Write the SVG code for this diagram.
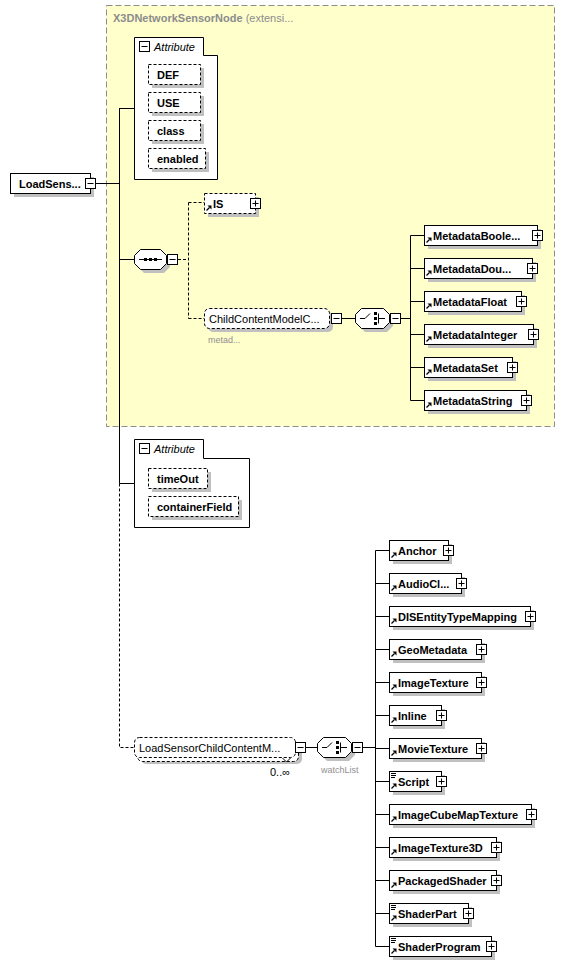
<svg xmlns="http://www.w3.org/2000/svg" xmlns:xlink="http://www.w3.org/1999/xlink" width="565" height="965" viewBox="0 0 565 965">
<style>
.box{fill:#fff;stroke:#000;stroke-width:1}
.dbox{fill:#fff;stroke:#000;stroke-width:1;stroke-dasharray:3,2}
.sh{fill:#c0c0c0}
.ln{stroke:#000;stroke-width:1;fill:none}
.dl{stroke:#000;stroke-width:1;fill:none;stroke-dasharray:3,2}
.t{font-family:"Liberation Sans",Arial,sans-serif;font-size:11px;font-weight:bold;fill:#000}
.tn{font-family:"Liberation Sans",Arial,sans-serif;font-size:11px;fill:#000}
.ti{font-family:"Liberation Sans",Arial,sans-serif;font-size:11px;font-style:italic;fill:#000}
.g{font-family:"Liberation Sans",Arial,sans-serif;font-size:9px;fill:#909090}
.pm{fill:#fff;stroke:#000;stroke-width:1}
</style>
<defs>
<g id="plus"><rect class="pm" x="0.5" y="0.5" width="10" height="10"/><path d="M2.5,5.5 H8.5 M5.5,2.5 V8.5" stroke="#000" stroke-width="1"/></g>
<g id="minus"><rect class="pm" x="0.5" y="0.5" width="10" height="10"/><path d="M2.5,5.5 H8.5" stroke="#000" stroke-width="1"/></g>
<g id="ref"><path d="M2.5,17.5 L5.5,14.5" stroke="#000" stroke-width="1.3"/><path d="M3.5,12.5 H7.5 V16.5 Z" fill="#000"/></g>
<g id="doc"><path d="M2,2.5 H7 M2,4.5 H7 M2,6.5 H6" stroke="#000" stroke-width="1"/></g>
</defs>

<!-- extension area -->
<g id="ext">
<rect x="106.5" y="5.5" width="448" height="421" fill="#ffffcc" stroke="#8c8c8c" stroke-width="1" stroke-dasharray="6,3"/>
<text x="113" y="22" font-family="Liberation Sans,Arial,sans-serif" font-size="11px" fill="#8c8c8c"><tspan font-weight="bold">X3DNetworkSensorNode</tspan> (extensi...</text>
</g>

<g id="connectors">
<path class="ln" d="M95,183.5 H119.5 M119.5,108 V483.5 M119.5,108.5 H134 M119.5,259.5 H134 M119.5,483.5 H134"/>
<path class="dl" d="M119.5,483.5 V747.5 H134"/>
<path class="dl" d="M178,259.5 H188.5 M188.5,202.5 V318.5 M188.5,202.5 H204 M188.5,318.5 H204"/>
<path class="ln" d="M342,318.5 H355 M401,318.5 H410.5 M410.5,235.5 V400.5"/>
<path class="ln" d="M410.5,235.5 H424 M410.5,268.5 H424 M410.5,301.5 H424 M410.5,334.5 H424 M410.5,367.5 H424 M410.5,400.5 H424"/>
<path class="ln" d="M306,747.5 H317 M362,747.5 H375.5 M375.5,550.5 V946.5"/>
<path class="ln" d="M375.5,550.5 H389 M375.5,583.5 H389 M375.5,616.5 H389 M375.5,649.5 H389 M375.5,682.5 H389 M375.5,715.5 H389 M375.5,748.5 H389 M375.5,781.5 H389 M375.5,814.5 H389 M375.5,847.5 H389 M375.5,880.5 H389 M375.5,913.5 H389 M375.5,946.5 H389"/>
</g>

<g id="root">
<rect class="sh" x="14" y="177" width="80" height="20"/>
<rect class="box" x="10.5" y="173.5" width="80" height="20"/>
<text class="t" x="19" y="187.5">LoadSens...</text>
<use xlink:href="#minus" x="85" y="178"/>
</g>

<g id="attrs1">
<path class="box" d="M134.5,37.5 H203.5 V55.5 H217.5 V179.5 H134.5 Z"/>
<use xlink:href="#minus" x="139" y="41"/>
<text class="ti" x="154" y="50.5">Attribute</text>
<rect class="sh" x="152" y="68" width="52" height="20"/>
<rect class="dbox" x="148.5" y="64.5" width="52" height="20"/>
<text class="t" x="157" y="78.5">DEF</text>
<rect class="sh" x="152" y="96" width="52" height="20"/>
<rect class="dbox" x="148.5" y="92.5" width="52" height="20"/>
<text class="t" x="157" y="106.5">USE</text>
<rect class="sh" x="152" y="124" width="52" height="20"/>
<rect class="dbox" x="148.5" y="120.5" width="52" height="20"/>
<text class="t" x="157" y="134.5">class</text>
<rect class="sh" x="152" y="152" width="57" height="20"/>
<rect class="dbox" x="148.5" y="148.5" width="57" height="20"/>
<text class="t" x="157" y="162.5">enabled</text>
</g>

<g id="seq">
<path class="sh" d="M144,253 H164 L170,259 V267 L164,273 H144 L138,267 V259 Z"/>
<path class="box" d="M140.5,249.5 H160.5 L166.5,255.5 V263.5 L160.5,269.5 H140.5 L134.5,263.5 V255.5 Z"/>
<path d="M139,259.5 H162" stroke="#000" stroke-width="1"/>
<rect x="144" y="258" width="3" height="3" fill="#000"/>
<rect x="149" y="258" width="3" height="3" fill="#000"/>
<rect x="154" y="258" width="3" height="3" fill="#000"/>
<use xlink:href="#minus" x="167" y="254"/>
</g>

<g id="IS">
<rect class="sh" x="208" y="197" width="51" height="20"/>
<rect class="dbox" x="204.5" y="193.5" width="51" height="20"/>
<use xlink:href="#ref" x="204" y="193"/>
<text class="t" x="213" y="207.5">IS</text>
<use xlink:href="#plus" x="250" y="198"/>
</g>

<g id="childContent">
<rect class="sh" x="208" y="312" width="125" height="20" rx="5"/>
<rect class="dbox" x="204.5" y="308.5" width="125" height="20" rx="5"/>
<text class="tn" x="209" y="322.5">ChildContentModelC...</text>
<use xlink:href="#minus" x="331" y="313"/>
<text class="g" x="208" y="343">metad...</text>
</g>

<g id="choice1">
<path class="sh" d="M365,312 H387 L393,318 V326 L387,332 H365 L359,326 V318 Z"/>
<path class="box" d="M361.5,308.5 H383.5 L389.5,314.5 V322.5 L383.5,328.5 H361.5 L355.5,322.5 V314.5 Z"/>
<path d="M360,318.5 H365 L370,313.5 M378.5,313.5 V323.5 M378.5,318.5 H385" stroke="#000" stroke-width="1" fill="none"/>
<rect x="374" y="312" width="3" height="3" fill="#000"/>
<rect x="374" y="317" width="3" height="3" fill="#000"/>
<rect x="374" y="322" width="3" height="3" fill="#000"/>
<use xlink:href="#minus" x="390" y="313"/>
</g>

<g id="MetadataBoolean">
<rect class="sh" x="428" y="229" width="113" height="20"/>
<rect class="box" x="424.5" y="225.5" width="113" height="20"/>
<use xlink:href="#ref" x="424" y="225"/>
<text class="t" x="433" y="239.5">MetadataBoole...</text>
<use xlink:href="#plus" x="532" y="230"/>
</g>
<g id="MetadataDouble">
<rect class="sh" x="428" y="262" width="108" height="20"/>
<rect class="box" x="424.5" y="258.5" width="108" height="20"/>
<use xlink:href="#ref" x="424" y="258"/>
<text class="t" x="433" y="272.5">MetadataDou...</text>
<use xlink:href="#plus" x="527" y="263"/>
</g>
<g id="MetadataFloat">
<rect class="sh" x="428" y="295" width="97" height="20"/>
<rect class="box" x="424.5" y="291.5" width="97" height="20"/>
<use xlink:href="#ref" x="424" y="291"/>
<text class="t" x="433" y="305.5">MetadataFloat</text>
<use xlink:href="#plus" x="516" y="296"/>
</g>
<g id="MetadataInteger">
<rect class="sh" x="428" y="328" width="109" height="20"/>
<rect class="box" x="424.5" y="324.5" width="109" height="20"/>
<use xlink:href="#ref" x="424" y="324"/>
<text class="t" x="433" y="338.5">MetadataInteger</text>
<use xlink:href="#plus" x="528" y="329"/>
</g>
<g id="MetadataSet">
<rect class="sh" x="428" y="361" width="88" height="20"/>
<rect class="box" x="424.5" y="357.5" width="88" height="20"/>
<use xlink:href="#ref" x="424" y="357"/>
<text class="t" x="433" y="371.5">MetadataSet</text>
<use xlink:href="#plus" x="507" y="362"/>
</g>
<g id="MetadataString">
<rect class="sh" x="428" y="394" width="102" height="20"/>
<rect class="box" x="424.5" y="390.5" width="102" height="20"/>
<use xlink:href="#ref" x="424" y="390"/>
<text class="t" x="433" y="404.5">MetadataString</text>
<use xlink:href="#plus" x="521" y="395"/>
</g>

<g id="attrs2">
<path class="box" d="M134.5,439.5 H203.5 V458.5 H249.5 V527.5 H134.5 Z"/>
<use xlink:href="#minus" x="139" y="443"/>
<text class="ti" x="154" y="452.5">Attribute</text>
<rect class="sh" x="152" y="472" width="59" height="20"/>
<rect class="dbox" x="148.5" y="468.5" width="59" height="20"/>
<text class="t" x="157" y="482.5">timeOut</text>
<rect class="sh" x="152" y="500" width="90" height="20"/>
<rect class="dbox" x="148.5" y="496.5" width="90" height="20"/>
<text class="t" x="157" y="510.5">containerField</text>
</g>

<g id="loadSensorChild">
<rect class="sh" x="141" y="744" width="161" height="20" rx="5"/>
<rect class="dbox" x="137.5" y="741.5" width="161" height="20" rx="5"/>
<rect class="dbox" x="134.5" y="737.5" width="161" height="20" rx="5"/>
<text class="tn" x="139" y="751.5">LoadSensorChildContentM...</text>
<path d="M282.5,758 L286.5,762 L290.5,758" fill="#fff" stroke="#000" stroke-width="1"/>
<use xlink:href="#minus" x="295" y="742"/>
<text class="tn" x="270" y="776">0..∞</text>
</g>

<g id="watchList">
<path class="sh" d="M327,741 H349 L355,747 V755 L349,761 H327 L321,755 V747 Z"/>
<path class="box" d="M323.5,737.5 H345.5 L351.5,743.5 V751.5 L345.5,757.5 H323.5 L317.5,751.5 V743.5 Z"/>
<path d="M322,747.5 H327 L332,742.5 M340.5,742.5 V752.5 M340.5,747.5 H347" stroke="#000" stroke-width="1" fill="none"/>
<rect x="336" y="741" width="3" height="3" fill="#000"/>
<rect x="336" y="746" width="3" height="3" fill="#000"/>
<rect x="336" y="751" width="3" height="3" fill="#000"/>
<use xlink:href="#minus" x="352" y="742"/>
<text class="g" x="321" y="773">watchList</text>
</g>

<g id="Anchor">
<rect class="sh" x="393" y="544" width="59" height="20"/>
<rect class="box" x="389.5" y="540.5" width="59" height="20"/>
<use xlink:href="#ref" x="389" y="540"/>
<text class="t" x="398" y="554.5">Anchor</text>
<use xlink:href="#plus" x="443" y="545"/>
</g>
<g id="AudioClip">
<rect class="sh" x="393" y="577" width="72" height="20"/>
<rect class="box" x="389.5" y="573.5" width="72" height="20"/>
<use xlink:href="#ref" x="389" y="573"/>
<text class="t" x="398" y="587.5">AudioCl...</text>
<use xlink:href="#plus" x="456" y="578"/>
</g>
<g id="DISEntityTypeMapping">
<rect class="sh" x="393" y="610" width="141" height="20"/>
<rect class="box" x="389.5" y="606.5" width="141" height="20"/>
<use xlink:href="#ref" x="389" y="606"/>
<text class="t" x="398" y="620.5">DISEntityTypeMapping</text>
<use xlink:href="#plus" x="525" y="611"/>
</g>
<g id="GeoMetadata">
<rect class="sh" x="393" y="643" width="92" height="20"/>
<rect class="box" x="389.5" y="639.5" width="92" height="20"/>
<use xlink:href="#ref" x="389" y="639"/>
<text class="t" x="398" y="653.5">GeoMetadata</text>
<use xlink:href="#plus" x="476" y="644"/>
</g>
<g id="ImageTexture">
<rect class="sh" x="393" y="676" width="92" height="20"/>
<rect class="box" x="389.5" y="672.5" width="92" height="20"/>
<use xlink:href="#ref" x="389" y="672"/>
<text class="t" x="398" y="686.5">ImageTexture</text>
<use xlink:href="#plus" x="476" y="677"/>
</g>
<g id="Inline">
<rect class="sh" x="393" y="709" width="52" height="20"/>
<rect class="box" x="389.5" y="705.5" width="52" height="20"/>
<use xlink:href="#ref" x="389" y="705"/>
<text class="t" x="398" y="719.5">Inline</text>
<use xlink:href="#plus" x="436" y="710"/>
</g>
<g id="MovieTexture">
<rect class="sh" x="393" y="742" width="92" height="20"/>
<rect class="box" x="389.5" y="738.5" width="92" height="20"/>
<use xlink:href="#ref" x="389" y="738"/>
<text class="t" x="398" y="752.5">MovieTexture</text>
<use xlink:href="#plus" x="476" y="743"/>
</g>
<g id="Script">
<rect class="sh" x="393" y="775" width="52" height="20"/>
<rect class="box" x="389.5" y="771.5" width="52" height="20"/>
<use xlink:href="#ref" x="389" y="771"/>
<use xlink:href="#doc" x="389" y="771"/>
<text class="t" x="398" y="785.5">Script</text>
<use xlink:href="#plus" x="436" y="776"/>
</g>
<g id="ImageCubeMapTexture">
<rect class="sh" x="393" y="808" width="142" height="20"/>
<rect class="box" x="389.5" y="804.5" width="142" height="20"/>
<use xlink:href="#ref" x="389" y="804"/>
<text class="t" x="398" y="818.5">ImageCubeMapTexture</text>
<use xlink:href="#plus" x="526" y="809"/>
</g>
<g id="ImageTexture3D">
<rect class="sh" x="393" y="841" width="107" height="20"/>
<rect class="box" x="389.5" y="837.5" width="107" height="20"/>
<use xlink:href="#ref" x="389" y="837"/>
<text class="t" x="398" y="851.5">ImageTexture3D</text>
<use xlink:href="#plus" x="491" y="842"/>
</g>
<g id="PackagedShader">
<rect class="sh" x="393" y="874" width="107" height="20"/>
<rect class="box" x="389.5" y="870.5" width="107" height="20"/>
<use xlink:href="#ref" x="389" y="870"/>
<text class="t" x="398" y="884.5">PackagedShader</text>
<use xlink:href="#plus" x="491" y="875"/>
</g>
<g id="ShaderPart">
<rect class="sh" x="393" y="907" width="79" height="20"/>
<rect class="box" x="389.5" y="903.5" width="79" height="20"/>
<use xlink:href="#ref" x="389" y="903"/>
<use xlink:href="#doc" x="389" y="903"/>
<text class="t" x="398" y="917.5">ShaderPart</text>
<use xlink:href="#plus" x="463" y="908"/>
</g>
<g id="ShaderProgram">
<rect class="sh" x="393" y="940" width="102" height="20"/>
<rect class="box" x="389.5" y="936.5" width="102" height="20"/>
<use xlink:href="#ref" x="389" y="936"/>
<use xlink:href="#doc" x="389" y="936"/>
<text class="t" x="398" y="950.5">ShaderProgram</text>
<use xlink:href="#plus" x="486" y="941"/>
</g>
</svg>
